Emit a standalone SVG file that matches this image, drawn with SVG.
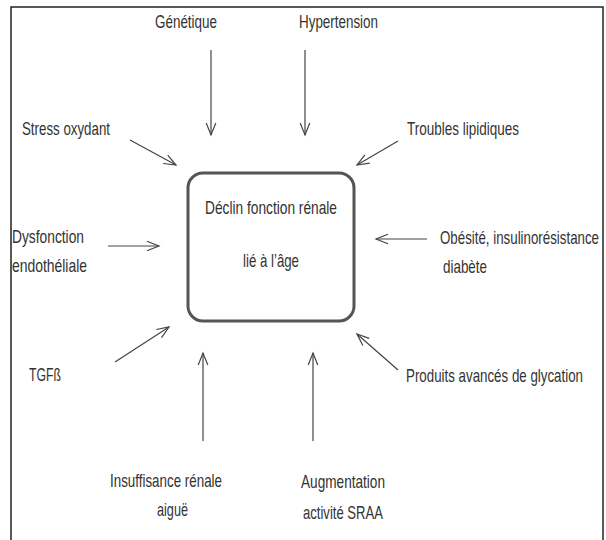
<svg xmlns="http://www.w3.org/2000/svg" width="606" height="540" viewBox="0 0 606 540">
<defs>
<style>
text{font-family:"Liberation Sans",Arial,sans-serif;font-size:18.5px;fill:#333;}
.c line{stroke:#444;stroke-width:1.2;fill:none;}
</style>
<marker id="ah" markerUnits="userSpaceOnUse" viewBox="-14 -7 16 14" markerWidth="16" markerHeight="14" refX="0" refY="0" orient="auto">
<path d="M-12,-4.8 L0,0 L-12,4.8" fill="none" stroke="#444" stroke-width="1.2"/>
</marker>
</defs>
<rect x="0" y="0" width="606" height="540" fill="#fff"/>
<rect x="11" y="7" width="592" height="540" fill="none" stroke="#222" stroke-width="1.5"/>
<g id="center">
<rect x="188" y="173" width="166" height="148" rx="15" fill="none" stroke="#555" stroke-width="3"/>
<text x="205" y="214" textLength="132" lengthAdjust="spacingAndGlyphs">Déclin fonction rénale</text>
<text x="243" y="267" textLength="56" lengthAdjust="spacingAndGlyphs">lié à l’âge</text>
</g>
<g id="genetique"><text x="155" y="28" textLength="62" lengthAdjust="spacingAndGlyphs">Génétique</text></g>
<g id="hypertension"><text x="299" y="28" textLength="79" lengthAdjust="spacingAndGlyphs">Hypertension</text></g>
<g id="stress"><text x="22" y="135" textLength="88" lengthAdjust="spacingAndGlyphs">Stress oxydant</text></g>
<g id="lipides"><text x="407" y="135" textLength="112" lengthAdjust="spacingAndGlyphs">Troubles lipidiques</text></g>
<g id="dysfonction">
<text x="12" y="243" textLength="72" lengthAdjust="spacingAndGlyphs">Dysfonction</text>
<text x="12" y="272" textLength="75" lengthAdjust="spacingAndGlyphs">endothéliale</text>
</g>
<g id="obesite">
<text x="440" y="244" textLength="159" lengthAdjust="spacingAndGlyphs">Obésité, insulinorésistance</text>
<text x="443" y="273" textLength="44" lengthAdjust="spacingAndGlyphs">diabète</text>
</g>
<g id="tgf"><text x="29" y="381" textLength="32" lengthAdjust="spacingAndGlyphs">TGFß</text></g>
<g id="produits"><text x="406" y="382" textLength="177" lengthAdjust="spacingAndGlyphs">Produits avancés de glycation</text></g>
<g id="insuffisance">
<text x="110" y="487" textLength="112" lengthAdjust="spacingAndGlyphs">Insuffisance rénale</text>
<text x="157" y="516" textLength="31" lengthAdjust="spacingAndGlyphs">aiguë</text>
</g>
<g id="sraa">
<text x="301" y="488" textLength="84" lengthAdjust="spacingAndGlyphs">Augmentation</text>
<text x="303" y="519" textLength="80" lengthAdjust="spacingAndGlyphs">activité SRAA</text>
</g>
<g class="c" id="connectors">
<line x1="211" y1="50" x2="211" y2="135" marker-end="url(#ah)"/>
<line x1="305" y1="50" x2="305" y2="135" marker-end="url(#ah)"/>
<line x1="130" y1="140" x2="176" y2="165" marker-end="url(#ah)"/>
<line x1="398" y1="141" x2="357" y2="165" marker-end="url(#ah)"/>
<line x1="108" y1="246" x2="159" y2="246" marker-end="url(#ah)"/>
<line x1="427" y1="239" x2="376" y2="239" marker-end="url(#ah)"/>
<line x1="115" y1="362" x2="169" y2="327" marker-end="url(#ah)"/>
<line x1="398" y1="370" x2="357" y2="334" marker-end="url(#ah)"/>
<line x1="203" y1="441" x2="203" y2="353" marker-end="url(#ah)"/>
<line x1="313" y1="441" x2="313" y2="353" marker-end="url(#ah)"/>
</g>
</svg>
